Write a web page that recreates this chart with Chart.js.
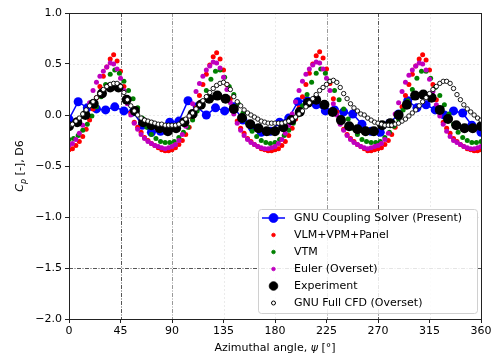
<!DOCTYPE html>
<html>
<head>
<meta charset="utf-8">
<script src="https://cdn.jsdelivr.net/npm/chart.js@4"></script>
<style>
  html,body{margin:0;padding:0;background:#fff;}
  #wrap{width:494px;height:361px;}
</style>
</head>
<body>
<div id="wrap"><canvas id="c" width="494" height="361"></canvas></div>
<script>
// ---- data ----
const X_TICKS=[0,45,90,135,180,225,270,315,360];
const Y_TICKS=[-2.0,-1.5,-1.0,-0.5,0.0,0.5,1.0];
const REF_X_DARK=[45,270];
const REF_X_LIGHT=[90,225];
const REF_Y=[-1.5];

const LABELS=['GNU Coupling Solver (Present)','VLM+VPM+Panel','VTM','Euler (Overset)','Experiment','GNU Full CFD (Overset)'];

// blue: GNU coupling solver
const ANG_BLUE=[0,8,16,24,32,40,48,56,64,72,80,88,96,104,112,120,128,136,144,152,160,168,176,184,192,200,208,216,224,232,240,248,256,264,272,280,288,296,304,312,320,328,336,344,352,360];
const CP_BLUE=[-0.04,0.13,0.07,0.06,0.05,0.08,0.04,0.03,-0.10,-0.17,-0.16,-0.07,-0.06,0.14,0.08,0.00,0.07,0.04,0.08,-0.05,-0.12,-0.17,-0.16,-0.07,-0.03,0.13,0.14,0.10,0.04,0.05,0.03,0.01,-0.09,-0.16,-0.17,-0.08,0.01,0.14,0.07,0.10,0.05,0.00,0.04,0.02,-0.10,-0.17];

// black: experiment
const ANG_EXP=[0,7.2,14.4,21.6,28.8,36,43.2,50.4,57.6,64.8,72,79.2,86.4,93.6,100.8,108,115.2,122.4,129.6,136.8,144,151.2,158.4,165.6,172.8,180,187.2,194.4,201.6,208.8,216,223.2,230.4,237.6,244.8,252,259.2,266.4,273.6,280.8,288,295.2,302.4,309.6,316.8,324,331.2,338.4,345.6,352.8,360];
const CP_EXP=[-0.11,-0.07,0.00,0.11,0.21,0.27,0.27,0.15,0.04,-0.07,-0.10,-0.13,-0.16,-0.13,-0.07,0.01,0.10,0.16,0.19,0.16,0.06,-0.03,-0.09,-0.13,-0.16,-0.16,-0.12,-0.05,0.03,0.12,0.15,0.10,0.03,-0.05,-0.11,-0.14,-0.16,-0.16,-0.10,-0.08,0.00,0.10,0.19,0.20,0.17,0.05,-0.04,-0.10,-0.13,-0.13,-0.11];

// 3-degree grid shared by VLM, Euler and full CFD
const ANG_3=[0,3,6,9,12,15,18,21,24,27,30,33,36,39,42,45,48,51,54,57,60,63,66,69,72,75,78,81,84,87,
  90,93,96,99,102,105,108,111,114,117,120,123,126,129,132,135,138,141,144,147,150,153,156,159,162,165,168,171,174,177,
  180,183,186,189,192,195,198,201,204,207,210,213,216,219,222,225,228,231,234,237,240,243,246,249,252,255,258,261,264,267,
  270,273,276,279,282,285,288,291,294,297,300,303,306,309,312,315,318,321,324,327,330,333,336,339,342,345,348,351,354,357,360];

const CP_VLM=[-0.34,-0.33,-0.30,-0.26,-0.21,-0.14,-0.05,0.06,0.17,0.28,0.38,0.47,0.55,0.59,0.53,0.43,0.28,0.14,0.02,-0.07,-0.12,-0.17,-0.22,-0.25,-0.28,-0.30,-0.32,-0.34,-0.35,-0.35,
  -0.34,-0.32,-0.29,-0.25,-0.19,-0.12,-0.04,0.07,0.19,0.30,0.40,0.49,0.57,0.61,0.55,0.44,0.30,0.16,0.03,-0.06,-0.13,-0.18,-0.23,-0.26,-0.29,-0.31,-0.33,-0.34,-0.35,-0.35,
  -0.34,-0.33,-0.30,-0.26,-0.20,-0.13,-0.04,0.07,0.18,0.30,0.41,0.50,0.58,0.62,0.56,0.45,0.31,0.16,0.03,-0.07,-0.14,-0.19,-0.23,-0.26,-0.29,-0.31,-0.33,-0.35,-0.35,-0.34,
  -0.33,-0.32,-0.29,-0.25,-0.19,-0.12,-0.03,0.08,0.19,0.30,0.40,0.48,0.55,0.59,0.54,0.44,0.30,0.15,0.02,-0.07,-0.13,-0.18,-0.23,-0.26,-0.29,-0.31,-0.33,-0.34,-0.35,-0.35,-0.34];

const CP_EULER=[-0.30,-0.28,-0.24,-0.18,-0.10,0.00,0.12,0.24,0.32,0.38,0.43,0.47,0.51,0.50,0.45,0.36,0.24,0.11,0.00,-0.08,-0.14,-0.19,-0.23,-0.26,-0.28,-0.30,-0.31,-0.32,-0.33,-0.32,
  -0.31,-0.29,-0.25,-0.19,-0.11,-0.01,0.11,0.23,0.31,0.38,0.44,0.48,0.52,0.51,0.46,0.37,0.25,0.12,0.01,-0.08,-0.15,-0.20,-0.24,-0.27,-0.29,-0.31,-0.32,-0.33,-0.33,-0.32,
  -0.31,-0.28,-0.24,-0.18,-0.10,0.01,0.13,0.24,0.33,0.40,0.45,0.49,0.52,0.51,0.45,0.36,0.24,0.11,0.00,-0.09,-0.15,-0.20,-0.24,-0.27,-0.29,-0.31,-0.32,-0.33,-0.32,-0.31,
  -0.30,-0.28,-0.24,-0.18,-0.09,0.01,0.12,0.23,0.32,0.39,0.44,0.48,0.51,0.50,0.44,0.35,0.23,0.10,-0.01,-0.09,-0.16,-0.21,-0.25,-0.27,-0.29,-0.31,-0.32,-0.33,-0.33,-0.32,-0.31];

const CP_CFD=[-0.10,-0.09,-0.06,-0.03,0.01,0.05,0.09,0.13,0.17,0.21,0.25,0.28,0.30,0.31,0.31,0.28,0.22,0.15,0.09,0.04,0.00,-0.03,-0.05,-0.06,-0.07,-0.08,-0.09,-0.09,-0.10,-0.10,
  -0.10,-0.10,-0.09,-0.07,-0.04,-0.01,0.02,0.06,0.10,0.14,0.18,0.22,0.26,0.29,0.31,0.32,0.30,0.25,0.18,0.13,0.09,0.05,0.02,0.00,-0.02,-0.04,-0.06,-0.07,-0.08,-0.08,
  -0.08,-0.08,-0.08,-0.07,-0.06,-0.04,-0.02,0.01,0.04,0.08,0.12,0.16,0.20,0.24,0.27,0.30,0.33,0.34,0.32,0.27,0.21,0.16,0.11,0.07,0.04,0.01,0.00,-0.03,-0.05,-0.07,
  -0.08,-0.09,-0.10,-0.10,-0.10,-0.09,-0.08,-0.06,-0.04,-0.01,0.02,0.05,0.09,0.13,0.17,0.21,0.25,0.28,0.31,0.33,0.33,0.31,0.26,0.20,0.15,0.10,0.06,0.03,0.00,-0.03,-0.05];

// green: VTM on a 4-degree grid
const ANG_VTM=[0,4,8,12,16,20,24,28,32,36,40,44,48,52,56,60,64,68,72,76,80,84,88,
  92,96,100,104,108,112,116,120,124,128,132,136,140,144,148,152,156,160,164,168,172,176,
  180,184,188,192,196,200,204,208,212,216,220,224,228,232,236,240,244,248,252,256,260,264,268,
  272,276,280,284,288,292,296,300,304,308,312,316,320,324,328,332,336,340,344,348,352,356,360];
const CP_VTM=[-0.24,-0.23,-0.20,-0.15,-0.09,-0.01,0.08,0.18,0.30,0.40,0.44,0.41,0.33,0.24,0.16,0.07,-0.03,-0.12,-0.19,-0.23,-0.26,-0.27,-0.27,
  -0.26,-0.22,-0.17,-0.12,-0.05,0.04,0.13,0.24,0.35,0.43,0.44,0.37,0.28,0.20,0.11,0.02,-0.08,-0.16,-0.21,-0.25,-0.27,-0.28,
  -0.27,-0.24,-0.20,-0.15,-0.08,0.00,0.09,0.20,0.32,0.41,0.45,0.41,0.33,0.24,0.15,0.06,-0.04,-0.13,-0.19,-0.24,-0.26,-0.27,-0.27,
  -0.26,-0.22,-0.17,-0.11,-0.04,0.05,0.14,0.25,0.36,0.43,0.43,0.36,0.27,0.19,0.10,0.01,-0.09,-0.17,-0.22,-0.25,-0.27,-0.27,-0.26];

// ---- helpers ----
const FONT='"DejaVu Sans", sans-serif';
const pts=(xs,ys)=>xs.map((x,i)=>({x,y:ys[i]}));
const minus=v=>(v<0?'\u2212':'')+Math.abs(v).toFixed(1);

// legend handles (same order as LABELS)
const LEG=[
  {line:'#0000ff',r:4.5,fill:'#0000ff',stroke:'#0000ff'},
  {r:1.8,fill:'#ff0000',stroke:'#ff0000'},
  {r:1.8,fill:'#008000',stroke:'#008000'},
  {r:1.8,fill:'#bf00bf',stroke:'#bf00bf'},
  {r:4.3,fill:'#000',stroke:'#000'},
  {r:2.0,fill:'#fff',stroke:'#000',lw:1}
];

const decor={
  id:'decor',
  beforeDatasetsDraw(chart){
    const {ctx,chartArea:a,scales:{x,y}}=chart;
    ctx.save();
    // faint grid
    ctx.lineWidth=0.8; ctx.strokeStyle='rgba(0,0,0,0.10)'; ctx.setLineDash([2,2]);
    X_TICKS.forEach(v=>{
      if(REF_X_DARK.includes(v)||REF_X_LIGHT.includes(v)) return;
      const px=Math.round(x.getPixelForValue(v))+0.5;
      ctx.beginPath(); ctx.moveTo(px,a.top); ctx.lineTo(px,a.bottom); ctx.stroke();
    });
    Y_TICKS.forEach(v=>{
      if(REF_Y.includes(v)) return;
      const py=Math.round(y.getPixelForValue(v))+0.5;
      ctx.beginPath(); ctx.moveTo(a.left,py); ctx.lineTo(a.right,py); ctx.stroke();
    });
    // reference lines
    ctx.lineWidth=1; ctx.setLineDash([4,1.5,1,1.5]);
    const vline=(v,col)=>{
      const px=Math.round(x.getPixelForValue(v))+0.5;
      ctx.strokeStyle=col; ctx.beginPath(); ctx.moveTo(px,a.top); ctx.lineTo(px,a.bottom); ctx.stroke();
    };
    REF_X_DARK.forEach(v=>vline(v,'#555'));
    REF_X_LIGHT.forEach(v=>vline(v,'#999'));
    REF_Y.forEach(v=>{
      const py=Math.round(y.getPixelForValue(v))+0.5;
      ctx.strokeStyle='#555'; ctx.beginPath(); ctx.moveTo(a.left,py); ctx.lineTo(a.right,py); ctx.stroke();
    });
    ctx.restore();
  },
  afterDraw(chart){
    const {ctx,chartArea:a}=chart;
    ctx.save();
    // frame
    ctx.strokeStyle='#222'; ctx.lineWidth=1; ctx.setLineDash([]);
    ctx.strokeRect(Math.round(a.left)+0.5,Math.round(a.top)+0.5,Math.round(a.right-a.left),Math.round(a.bottom-a.top));

    // x title
    ctx.fillStyle='#000'; ctx.textBaseline='middle';
    const xt1='Azimuthal angle, ', xt2='\u03c8', xt3=' [\u00b0]';
    ctx.font='11px '+FONT; const w1=ctx.measureText(xt1).width, w3=ctx.measureText(xt3).width;
    ctx.font='italic 11px '+FONT; const w2=ctx.measureText(xt2).width;
    let sx=(a.left+a.right)/2-(w1+w2+w3)/2, sy=348;
    ctx.textAlign='left';
    ctx.font='11px '+FONT; ctx.fillText(xt1,sx,sy);
    ctx.font='italic 11px '+FONT; ctx.fillText(xt2,sx+w1,sy);
    ctx.font='11px '+FONT; ctx.fillText(xt3,sx+w1+w2,sy);

    // y title, rotated, with subscript
    ctx.translate(19,(a.top+a.bottom)/2); ctx.rotate(-Math.PI/2);
    ctx.font='italic 11px '+FONT; const c1=ctx.measureText('C').width;
    ctx.font='italic 8px '+FONT; const c2=ctx.measureText('p').width;
    ctx.font='11px '+FONT; const c3=ctx.measureText(' [-], D6').width;
    let tx=-(c1+c2+c3)/2;
    ctx.textBaseline='alphabetic';
    ctx.font='italic 11px '+FONT; ctx.fillText('C',tx,4);
    ctx.font='italic 8px '+FONT; ctx.fillText('p',tx+c1,6.5);
    ctx.font='11px '+FONT; ctx.fillText(' [-], D6',tx+c1+c2,4);
    ctx.setTransform(1,0,0,1,0,0);

    // legend box
    const bx=258,by=209,bw=219,bh=104;
    ctx.beginPath(); ctx.roundRect(bx+0.5,by+0.5,bw,bh,3);
    ctx.fillStyle='rgba(255,255,255,0.85)'; ctx.fill();
    ctx.strokeStyle='#d0d0d0'; ctx.lineWidth=1; ctx.stroke();
    ctx.font='11px '+FONT; ctx.textBaseline='middle'; ctx.textAlign='left';
    LABELS.forEach((t,i)=>{
      const cy=218+i*17, hx=273.5, h=LEG[i];
      if(h.line){
        ctx.strokeStyle=h.line; ctx.lineWidth=1.5;
        ctx.beginPath(); ctx.moveTo(262,cy); ctx.lineTo(285,cy); ctx.stroke();
      }
      ctx.beginPath(); ctx.arc(hx,cy,h.r,0,Math.PI*2);
      ctx.fillStyle=h.fill; ctx.fill();
      ctx.strokeStyle=h.stroke; ctx.lineWidth=h.lw||0.8; ctx.stroke();
      ctx.fillStyle='#000'; ctx.fillText(t,294,cy+0.5);
    });
    ctx.restore();
  }
};

new Chart(document.getElementById('c'),{
  type:'scatter',
  data:{datasets:[
    {label:LABELS[0],data:pts(ANG_BLUE,CP_BLUE),showLine:true,borderColor:'#0000ff',borderWidth:1.5,
     pointRadius:4.5,pointBackgroundColor:'#0000ff',pointBorderColor:'#0000ff',pointBorderWidth:0,order:6},
    {label:LABELS[1],data:pts(ANG_3,CP_VLM),pointRadius:2.5,pointBackgroundColor:'#ff0000',pointBorderWidth:0,order:5},
    {label:LABELS[2],data:pts(ANG_VTM,CP_VTM),pointRadius:2.5,pointBackgroundColor:'#008000',pointBorderWidth:0,order:4},
    {label:LABELS[3],data:pts(ANG_3,CP_EULER),pointRadius:2.5,pointBackgroundColor:'#bf00bf',pointBorderWidth:0,order:3},
    {label:LABELS[4],data:pts(ANG_EXP,CP_EXP),pointRadius:5,pointBackgroundColor:'#000',pointBorderWidth:0,order:2},
    {label:LABELS[5],data:pts(ANG_3,CP_CFD),pointRadius:2.2,pointBackgroundColor:'#fff',pointBorderColor:'#000',pointBorderWidth:0.9,order:1}
  ]},
  options:{
    responsive:false,devicePixelRatio:1,animation:false,
    layout:{padding:{top:13,right:13,left:0,bottom:0}},
    plugins:{legend:{display:false},tooltip:{enabled:false}},
    scales:{
      x:{type:'linear',min:0,max:360,
         afterBuildTicks:s=>{s.ticks=X_TICKS.map(v=>({value:v}));},
         afterFit:s=>{s.height=42;},
         grid:{drawOnChartArea:false,drawTicks:true,tickLength:4,tickColor:'#222'},
         border:{color:'#222',width:1},
         ticks:{color:'#000',font:{family:'DejaVu Sans',size:11},padding:2,maxRotation:0,callback:v=>String(v)}},
      y:{type:'linear',min:-2,max:1,
         afterBuildTicks:s=>{s.ticks=Y_TICKS.map(v=>({value:v}));},
         afterFit:s=>{s.width=69;},
         grid:{drawOnChartArea:false,drawTicks:true,tickLength:4,tickColor:'#222'},
         border:{color:'#222',width:1},
         ticks:{color:'#000',font:{family:'DejaVu Sans',size:11},padding:3,callback:v=>minus(v)}}
    }
  },
  plugins:[decor]
});
</script>
</body>
</html>
